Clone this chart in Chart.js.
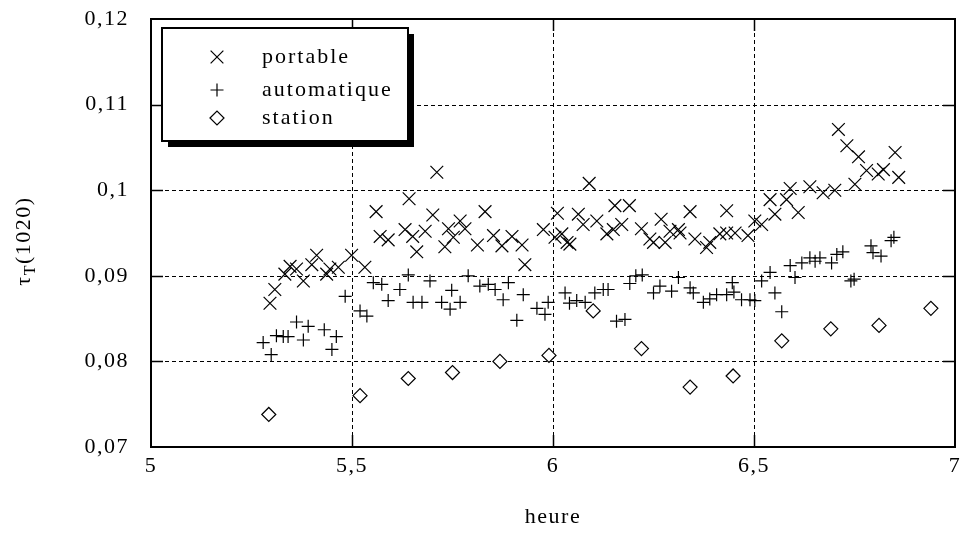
<!DOCTYPE html>
<html>
<head>
<meta charset="utf-8">
<script src="https://cdn.jsdelivr.net/npm/chart.js@4/dist/chart.umd.min.js"></script>
<style>
  html, body { margin: 0; padding: 0; background: #fff; }
  #wrap { width: 967px; height: 538px; }
</style>
</head>
<body>
<div id="wrap"><canvas id="myChart" width="967" height="538"></canvas></div>
<script>
// portable (x) : heure / tau
var heurePortable = [5.296,5.308,5.333,5.346,5.362,5.379,5.400,5.412,5.437,5.445,5.466,5.499,5.532,5.560,5.570,5.590,5.632,5.642,5.651,5.661,5.682,5.701,5.711,5.731,5.740,5.752,5.769,5.781,5.812,5.831,5.852,5.873,5.898,5.923,5.930,5.976,6.005,6.011,6.022,6.035,6.042,6.063,6.075,6.090,6.109,6.134,6.150,6.154,6.171,6.190,6.220,6.241,6.250,6.269,6.279,6.291,6.312,6.316,6.341,6.353,6.382,6.390,6.415,6.432,6.432,6.453,6.485,6.502,6.519,6.540,6.552,6.581,6.590,6.610,6.639,6.672,6.701,6.710,6.731,6.751,6.760,6.780,6.809,6.822,6.851,6.860];
var tauPortable = [0.0868,0.0884,0.0902,0.0911,0.0908,0.0894,0.0913,0.0924,0.0902,0.0908,0.0910,0.0924,0.0910,0.0975,0.0946,0.0942,0.0954,0.0990,0.0946,0.0928,0.0952,0.0971,0.1021,0.0934,0.0955,0.0945,0.0964,0.0955,0.0936,0.0975,0.0947,0.0935,0.0946,0.0936,0.0913,0.0954,0.0945,0.0973,0.0949,0.0939,0.0937,0.0972,0.0960,0.1008,0.0964,0.0949,0.0954,0.0982,0.0960,0.0982,0.0955,0.0943,0.0939,0.0966,0.0939,0.0952,0.0954,0.0950,0.0975,0.0943,0.0933,0.0939,0.0949,0.0976,0.0950,0.0950,0.0947,0.0964,0.0960,0.0989,0.0972,0.0989,0.1002,0.0974,0.1004,0.0997,0.1000,0.1071,0.1052,0.1007,0.1039,0.1023,0.1019,0.1024,0.1044,0.1015];

// automatique (+)
var heureAuto = [5.279,5.299,5.312,5.329,5.341,5.362,5.379,5.391,5.431,5.450,5.461,5.483,5.520,5.537,5.553,5.574,5.590,5.619,5.640,5.652,5.674,5.694,5.723,5.744,5.748,5.769,5.789,5.818,5.839,5.856,5.876,5.889,5.910,5.926,5.960,5.980,5.988,6.030,6.041,6.059,6.080,6.104,6.125,6.137,6.158,6.179,6.191,6.206,6.222,6.250,6.266,6.295,6.312,6.341,6.349,6.374,6.390,6.407,6.432,6.446,6.450,6.469,6.490,6.502,6.519,6.540,6.552,6.569,6.590,6.602,6.619,6.639,6.652,6.664,6.693,6.706,6.721,6.741,6.749,6.791,6.796,6.816,6.841,6.848];
var tauAuto = [0.0822,0.0808,0.0830,0.0829,0.0829,0.0846,0.0825,0.0841,0.0837,0.0814,0.0829,0.0876,0.0859,0.0853,0.0892,0.0890,0.0871,0.0884,0.0901,0.0869,0.0869,0.0894,0.0869,0.0861,0.0883,0.0869,0.0900,0.0888,0.0890,0.0884,0.0872,0.0892,0.0848,0.0878,0.0862,0.0855,0.0869,0.0880,0.0868,0.0871,0.0869,0.0880,0.0884,0.0884,0.0847,0.0849,0.0891,0.0900,0.0901,0.0880,0.0888,0.0882,0.0898,0.0886,0.0880,0.0869,0.0873,0.0878,0.0878,0.0892,0.0881,0.0872,0.0872,0.0871,0.0894,0.0904,0.0880,0.0858,0.0912,0.0898,0.0915,0.0921,0.0917,0.0921,0.0915,0.0925,0.0928,0.0894,0.0896,0.0935,0.0927,0.0923,0.0941,0.0945];

// station (losange)
var heureStation = [5.293,5.520,5.640,5.750,5.868,5.990,6.100,6.220,6.341,6.448,6.569,6.691,6.811,6.940];
var tauStation = [0.0738,0.0760,0.0780,0.0787,0.0800,0.0807,0.0859,0.0815,0.0770,0.0783,0.0824,0.0838,0.0842,0.0862];

var seriesNames = ['portable', 'automatique', 'station'];
var xTicks = [5, 5.5, 6, 6.5, 7];
var yTicks = [0.07, 0.08, 0.09, 0.1, 0.11, 0.12];

function pairs(xs, ys) {
  return xs.map(function(v, i){ return {x: v, y: ys[i]}; });
}
function virgule(v) {
  return String(Number(v.toFixed(2))).replace('.', ',');
}

var FONT = '"Liberation Serif", "Times New Roman", serif';

// espacement des lettres comme dans l'original
var espacement = {
  id: 'espacement',
  beforeDraw: function(chart) { chart.ctx.letterSpacing = '1.5px'; }
};

// grille pointillee + cadre + graduations vers l'interieur
var cadre = {
  id: 'cadre',
  beforeDatasetsDraw: function(chart) {
    var ctx = chart.ctx, a = chart.chartArea, x = chart.scales.x, y = chart.scales.y;
    ctx.save();
    ctx.strokeStyle = '#000';
    ctx.lineWidth = 1;
    ctx.setLineDash([4, 3]);
    ctx.beginPath();
    xTicks.slice(1, -1).forEach(function(v){
      var px = Math.round(x.getPixelForValue(v)) + 0.5;
      ctx.moveTo(px, a.top); ctx.lineTo(px, a.bottom);
    });
    yTicks.slice(1, -1).forEach(function(v){
      var py = Math.round(y.getPixelForValue(v)) + 0.5;
      ctx.moveTo(a.left, py); ctx.lineTo(a.right, py);
    });
    ctx.stroke();
    ctx.setLineDash([]);
    ctx.lineWidth = 1.5;
    ctx.beginPath();
    var L = 12;
    xTicks.slice(1, -1).forEach(function(v){
      var px = Math.round(x.getPixelForValue(v)) + 0.5;
      ctx.moveTo(px, a.bottom); ctx.lineTo(px, a.bottom - L);
      ctx.moveTo(px, a.top); ctx.lineTo(px, a.top + L);
    });
    yTicks.slice(1, -1).forEach(function(v){
      var py = Math.round(y.getPixelForValue(v)) + 0.5;
      ctx.moveTo(a.left, py); ctx.lineTo(a.left + L, py);
      ctx.moveTo(a.right, py); ctx.lineTo(a.right - L, py);
    });
    ctx.stroke();
    ctx.lineWidth = 2;
    ctx.strokeRect(a.left, a.top, a.right - a.left, a.bottom - a.top);
    ctx.restore();
  }
};

// titre de l'axe y avec indice T, et legende encadree avec ombre
var annexes = {
  id: 'annexes',
  afterDraw: function(chart) {
    var ctx = chart.ctx, a = chart.chartArea;
    ctx.save();
    ctx.fillStyle = '#000';
    ctx.letterSpacing = '1.5px';
    // titre y
    ctx.translate(24, (a.top + a.bottom) / 2 + 8);
    ctx.rotate(-Math.PI / 2);
    ctx.textBaseline = 'middle';
    ctx.font = '22px ' + FONT;
    var w1 = ctx.measureText('\u03C4').width;
    ctx.font = '16px ' + FONT;
    var w2 = ctx.measureText('T').width;
    ctx.font = '22px ' + FONT;
    var w3 = ctx.measureText('(1020)').width;
    var x0 = -(w1 + w2 + w3) / 2;
    ctx.textAlign = 'left';
    ctx.fillText('\u03C4', x0, 0);
    ctx.font = '16px ' + FONT;
    ctx.fillText('T', x0 + w1, 7);
    ctx.font = '22px ' + FONT;
    ctx.fillText('(1020)', x0 + w1 + w2, 0);
    ctx.restore();

    // legende
    var bx = a.left + 11, by = a.top + 9, bw = 246, bh = 113;
    ctx.save();
    ctx.fillStyle = '#000';
    ctx.fillRect(bx + 6, by + 6, bw, bh);
    ctx.fillStyle = '#fff';
    ctx.fillRect(bx, by, bw, bh);
    ctx.strokeStyle = '#000';
    ctx.lineWidth = 2;
    ctx.strokeRect(bx, by, bw, bh);
    ctx.font = '22px ' + FONT;
    ctx.letterSpacing = '2px';
    ctx.textBaseline = 'middle';
    ctx.textAlign = 'left';
    var rows = [29, 62, 90];
    chart.data.datasets.forEach(function(ds, i){
      var yy = by + rows[i];
      ctx.strokeStyle = '#000';
      ctx.fillStyle = '#fff';
      ctx.lineWidth = ds.borderWidth;
      Chart.helpers.drawPoint(ctx, {
        pointStyle: ds.pointStyle, radius: ds.pointRadius, borderWidth: ds.borderWidth, rotation: 0
      }, bx + 55, yy);
      ctx.fillStyle = '#000';
      ctx.fillText(ds.label, bx + 100, yy);
    });
    ctx.restore();
  }
};

Chart.defaults.font.family = FONT;
Chart.defaults.font.size = 22;
Chart.defaults.color = '#000';

new Chart(document.getElementById('myChart'), {
  type: 'scatter',
  data: {
    datasets: [
      {
        label: seriesNames[0],
        data: pairs(heurePortable, tauPortable),
        pointStyle: 'crossRot',
        pointRadius: 9,
        pointHoverRadius: 9,
        borderColor: '#000',
        backgroundColor: 'rgba(0,0,0,0)',
        borderWidth: 1.2
      },
      {
        label: seriesNames[1],
        data: pairs(heureAuto, tauAuto),
        pointStyle: 'cross',
        pointRadius: 6.5,
        pointHoverRadius: 6.5,
        borderColor: '#000',
        backgroundColor: 'rgba(0,0,0,0)',
        borderWidth: 1.2
      },
      {
        label: seriesNames[2],
        data: pairs(heureStation, tauStation),
        pointStyle: 'rectRot',
        pointRadius: 7,
        pointHoverRadius: 7,
        borderColor: '#000',
        backgroundColor: '#fff',
        borderWidth: 1.2
      }
    ]
  },
  options: {
    responsive: false,
    animation: false,
    events: [],
    layout: { padding: { left: 0, right: 12, top: 19, bottom: 0 } },
    plugins: {
      legend: { display: false },
      tooltip: { enabled: false }
    },
    scales: {
      x: {
        type: 'linear',
        min: 5, max: 7,
        afterBuildTicks: function(s){ s.ticks = xTicks.map(function(v){ return {value: v}; }); },
        afterFit: function(s){ s.height = 538 - 19 - 428; s.paddingLeft = 0; s.paddingRight = 0; },
        grid: { display: false, drawTicks: false },
        border: { display: false },
        ticks: { padding: 6, maxRotation: 0, callback: function(v){ return virgule(v); } },
        title: { display: true, text: 'heure', padding: { top: 4, bottom: 8 } }
      },
      y: {
        type: 'linear',
        min: 0.07, max: 0.12,
        afterBuildTicks: function(s){ s.ticks = yTicks.map(function(v){ return {value: v}; }); },
        afterFit: function(s){ s.width = 151; s.paddingTop = 0; s.paddingBottom = 0; },
        grid: { display: false, drawTicks: false },
        border: { display: false },
        ticks: { padding: 22, callback: function(v){ return virgule(v); } }
      }
    }
  },
  plugins: [espacement, cadre, annexes]
});
</script>
</body>
</html>
